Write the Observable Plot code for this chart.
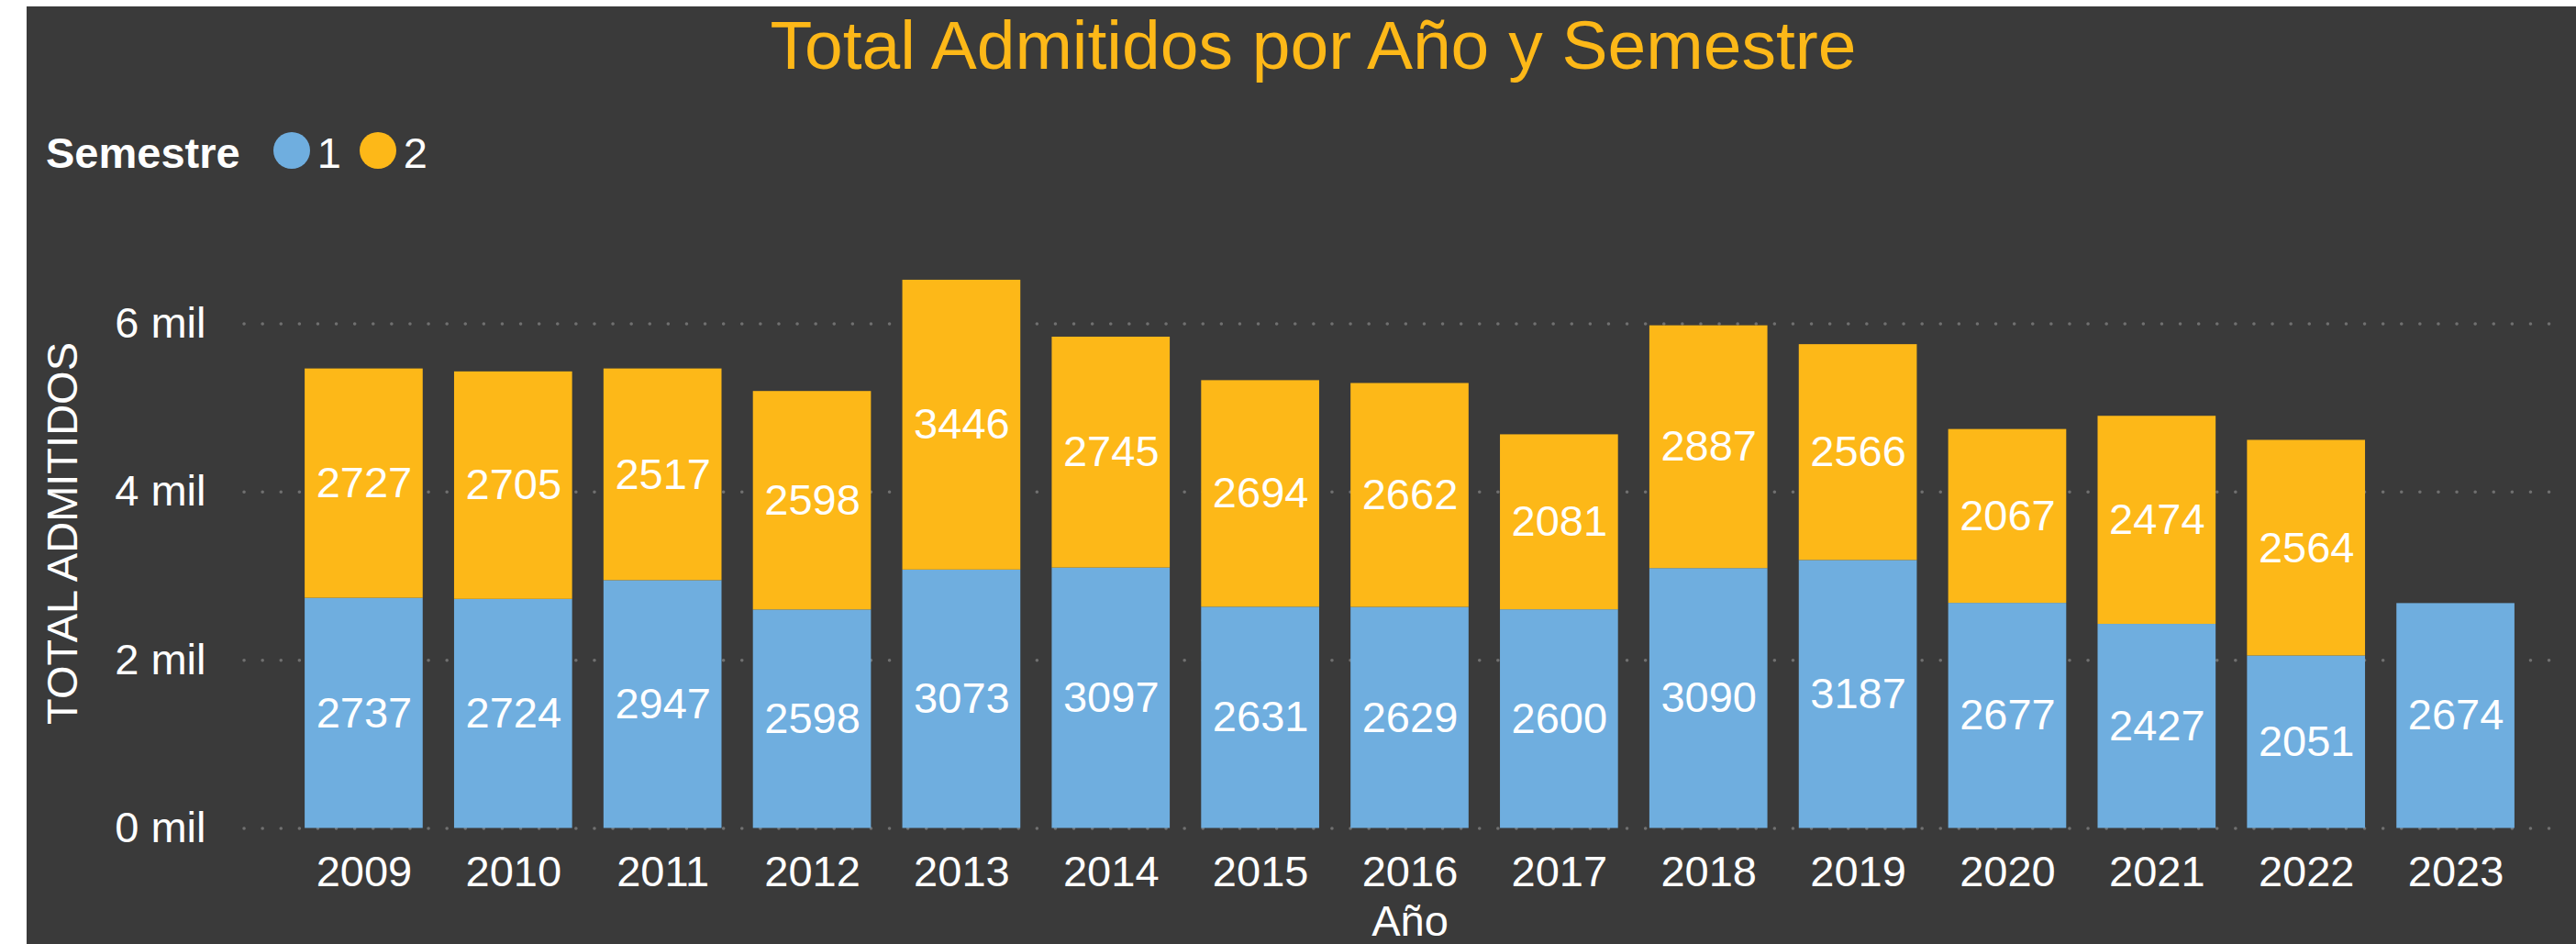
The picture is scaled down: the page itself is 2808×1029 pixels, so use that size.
<!DOCTYPE html>
<html>
<head>
<meta charset="utf-8">
<script src="https://cdn.jsdelivr.net/npm/d3@7"></script>
<script src="https://cdn.jsdelivr.net/npm/@observablehq/plot@0.6"></script>
<style>
html, body { margin:0; padding:0; background:#fff; width:2808px; height:1029px; overflow:hidden;
  font-family:"Liberation Sans", Arial, sans-serif; }
#panel { position:absolute; left:29px; top:7px; width:2779px; height:1022px; background:#3a3a3a; }
#title { position:absolute; left:29px; top:12px; width:2779px; padding-left:26px; box-sizing:border-box;
  text-align:center; font-size:75px; line-height:75px; color:#fdb818; white-space:nowrap; }
#legend { position:absolute; left:50px; top:143px; display:flex; align-items:center;
  font-size:47px; line-height:47px; color:#fff; white-space:nowrap; }
#legend .hdr { font-weight:bold; margin-right:36px; }
#legend .sw { width:40px; height:40px; border-radius:50%; margin-right:8px; margin-top:-6px; }
#legend .it { margin-right:20px; }
#chart { position:absolute; left:0; top:200px; }
</style>
</head>
<body>
<div id="panel"></div>
<div id="title"></div>
<div id="legend"></div>
<div id="chart"></div>
<script>
const titleText = "Total Admitidos por Año y Semestre";
const legendTitle = "Semestre";
const years = [2009, 2010, 2011, 2012, 2013, 2014, 2015, 2016, 2017, 2018, 2019, 2020, 2021, 2022, 2023];
const semestre1 = [2737, 2724, 2947, 2598, 3073, 3097, 2631, 2629, 2600, 3090, 3187, 2677, 2427, 2051, 2674];
const semestre2 = [2727, 2705, 2517, 2598, 3446, 2745, 2694, 2662, 2081, 2887, 2566, 2067, 2474, 2564, null];
const semesters = ["1", "2"];
const semColors = ["#6faedf", "#fdb818"];
const yTicks = [0, 2000, 4000, 6000];
const yLabel = "TOTAL ADMITIDOS";
const xLabel = "Año";

document.getElementById("title").textContent = titleText;
const legend = document.getElementById("legend");
const hdr = document.createElement("span"); hdr.className = "hdr"; hdr.textContent = legendTitle; legend.appendChild(hdr);
semesters.forEach((s, i) => {
  const sw = document.createElement("span"); sw.className = "sw"; sw.style.background = semColors[i]; legend.appendChild(sw);
  const it = document.createElement("span"); it.className = "it"; it.textContent = s; legend.appendChild(it);
});

const data = [];
years.forEach((y, i) => {
  data.push({year: String(y), sem: "1", value: semestre1[i]});
  if (semestre2[i] != null) data.push({year: String(y), sem: "2", value: semestre2[i]});
});

const chart = Plot.plot({
  width: 2808, height: 829,
  marginLeft: 315, marginRight: 50, marginTop: 152.5, marginBottom: 126.5,
  style: "background:transparent;font-family:'Liberation Sans',Arial,sans-serif;color:#fff;overflow:visible;",
  x: {domain: years.map(String), paddingInner: 0.21, paddingOuter: 0.105, round: false},
  y: {domain: [0, 6000]},
  color: {domain: semesters, range: semColors},
  marks: [
    Plot.gridY(yTicks, {stroke: "#707070", strokeOpacity: 1, strokeWidth: 3.5, strokeDasharray: "0.1 20", strokeLinecap: "round", insetLeft: -49, insetRight: -32}),
    Plot.barY(data, {x: "year", y: "value", fill: "sem", z: "sem"}),
    Plot.text(data, Plot.stackY({x: "year", y: "value", z: "sem", text: d => String(d.value), fill: "#fff", fontSize: 47})),
    Plot.axisY(yTicks, {tickSize: 0, tickPadding: 91, tickFormat: d => `${d / 1000} mil`, fontSize: 47, label: null}),
    Plot.text([yLabel], {text: d => d, frameAnchor: "left", rotate: -90, textAnchor: "middle", lineAnchor: "middle",
      dx: -247, dy: -46.5, fontSize: 47, fill: "#fff"}),
    Plot.axisX({tickSize: 0, tickPadding: 30, fontSize: 47, label: xLabel, labelAnchor: "center", labelOffset: 117, labelArrow: "none"})
  ]
});
document.getElementById("chart").appendChild(chart);
</script>
</body>
</html>
